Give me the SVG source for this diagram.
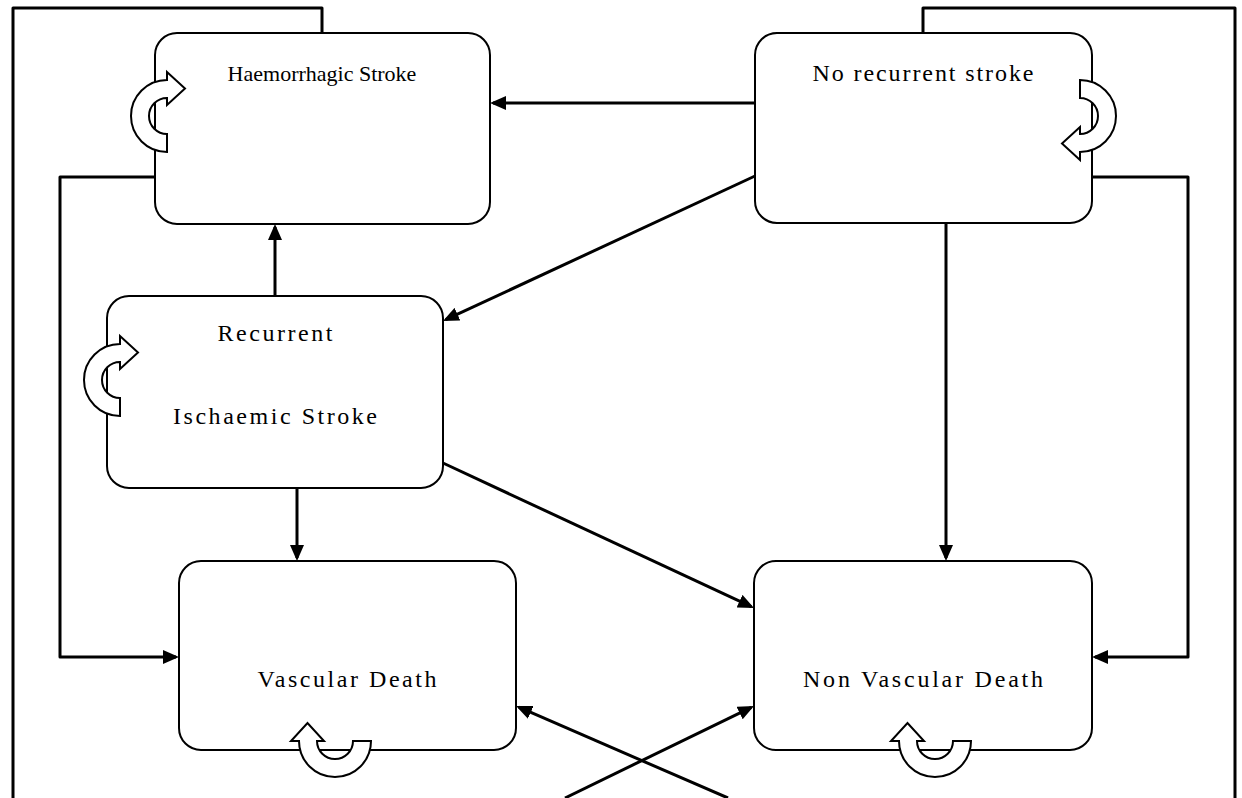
<svg xmlns="http://www.w3.org/2000/svg" width="1242" height="798" viewBox="0 0 1242 798">
  <style>
    .box { fill: #ffffff; stroke: #000000; stroke-width: 2; }
    .label { font-family: "Liberation Serif", "Times New Roman", serif; font-size: 24px; fill: #000000; text-anchor: middle; }
    .compact { font-size: 22px; }
    .loop { fill: #ffffff; stroke: #000000; stroke-width: 2; stroke-linejoin: miter; }
    .link { fill: none; stroke: #000000; stroke-width: 3; stroke-linejoin: round; }
    .arrow { marker-end: url(#head); }
  </style>
  <defs>
    <marker id="head" viewBox="0 0 16 14" refX="13" refY="7" markerWidth="16" markerHeight="14" markerUnits="userSpaceOnUse" orient="auto">
      <path d="M0,0 L16,7 L0,14 Z" fill="#000000"/>
    </marker>
    <!-- half-ring self-transition arrow, opening to the right, head at top pointing right -->
    <path id="selfloop" d="M0,-36 A36,36 0 0 0 0,36 L0,18 A18,18 0 0 1 0,-18 L0,-11 L18,-27.5 L0,-44 Z"/>
  </defs>

  <rect width="1242" height="798" fill="#ffffff"/>

  <g id="connectors">
    <!-- outer loops running off the bottom edge -->
    <path class="link" d="M322,33 V8 H13 V798"/>
    <path class="link" d="M923,33 V8 H1235 V798"/>
    <!-- side routes into the death states -->
    <path class="link arrow" d="M155,177 H60 V657 H176"/>
    <path class="link arrow" d="M1092,177 H1188 V657 H1095"/>
    <!-- direct transitions -->
    <path class="link arrow" d="M755,103 H493"/>
    <path class="link arrow" d="M755,176 L445.7,319.7"/>
    <path class="link arrow" d="M946,223 V558"/>
    <path class="link arrow" d="M275,296 V227"/>
    <path class="link arrow" d="M297,488 V558"/>
    <path class="link arrow" d="M443,463 L751.3,606.7"/>
    <!-- crossing lines entering from below -->
    <path class="link arrow" d="M565,798 L751.3,707.3"/>
    <path class="link arrow" d="M728,798 L518.8,707.2"/>
  </g>

  <g id="haemorrhagic-stroke">
    <rect class="box" x="155" y="33" width="335" height="191" rx="22" ry="22"/>
    <text class="label compact" x="322" y="81">Haemorrhagic Stroke</text>
    <use href="#selfloop" class="loop" transform="translate(167,116)"/>
  </g>

  <g id="no-recurrent-stroke">
    <rect class="box" x="755" y="33" width="337" height="190" rx="22" ry="22"/>
    <text class="label" x="923" y="81" textLength="221" lengthAdjust="spacing">No recurrent stroke</text>
    <use href="#selfloop" class="loop" transform="translate(1080,116) rotate(180)"/>
  </g>

  <g id="recurrent-ischaemic-stroke">
    <rect class="box" x="107" y="296" width="336" height="192" rx="22" ry="22"/>
    <text class="label" x="275" y="341" textLength="115" lengthAdjust="spacing">Recurrent</text>
    <text class="label" x="275" y="424" textLength="204" lengthAdjust="spacing">Ischaemic Stroke</text>
    <use href="#selfloop" class="loop" transform="translate(120,380)"/>
  </g>

  <g id="vascular-death">
    <rect class="box" x="179" y="561" width="337" height="189" rx="22" ry="22"/>
    <text class="label" x="347" y="687" textLength="179" lengthAdjust="spacing">Vascular Death</text>
    <use href="#selfloop" class="loop" transform="translate(335,741) rotate(-90)"/>
  </g>

  <g id="non-vascular-death">
    <rect class="box" x="754" y="561" width="338" height="189" rx="22" ry="22"/>
    <text class="label" x="923" y="687" textLength="240" lengthAdjust="spacing">Non Vascular Death</text>
    <use href="#selfloop" class="loop" transform="translate(935,741) rotate(-90)"/>
  </g>
</svg>
